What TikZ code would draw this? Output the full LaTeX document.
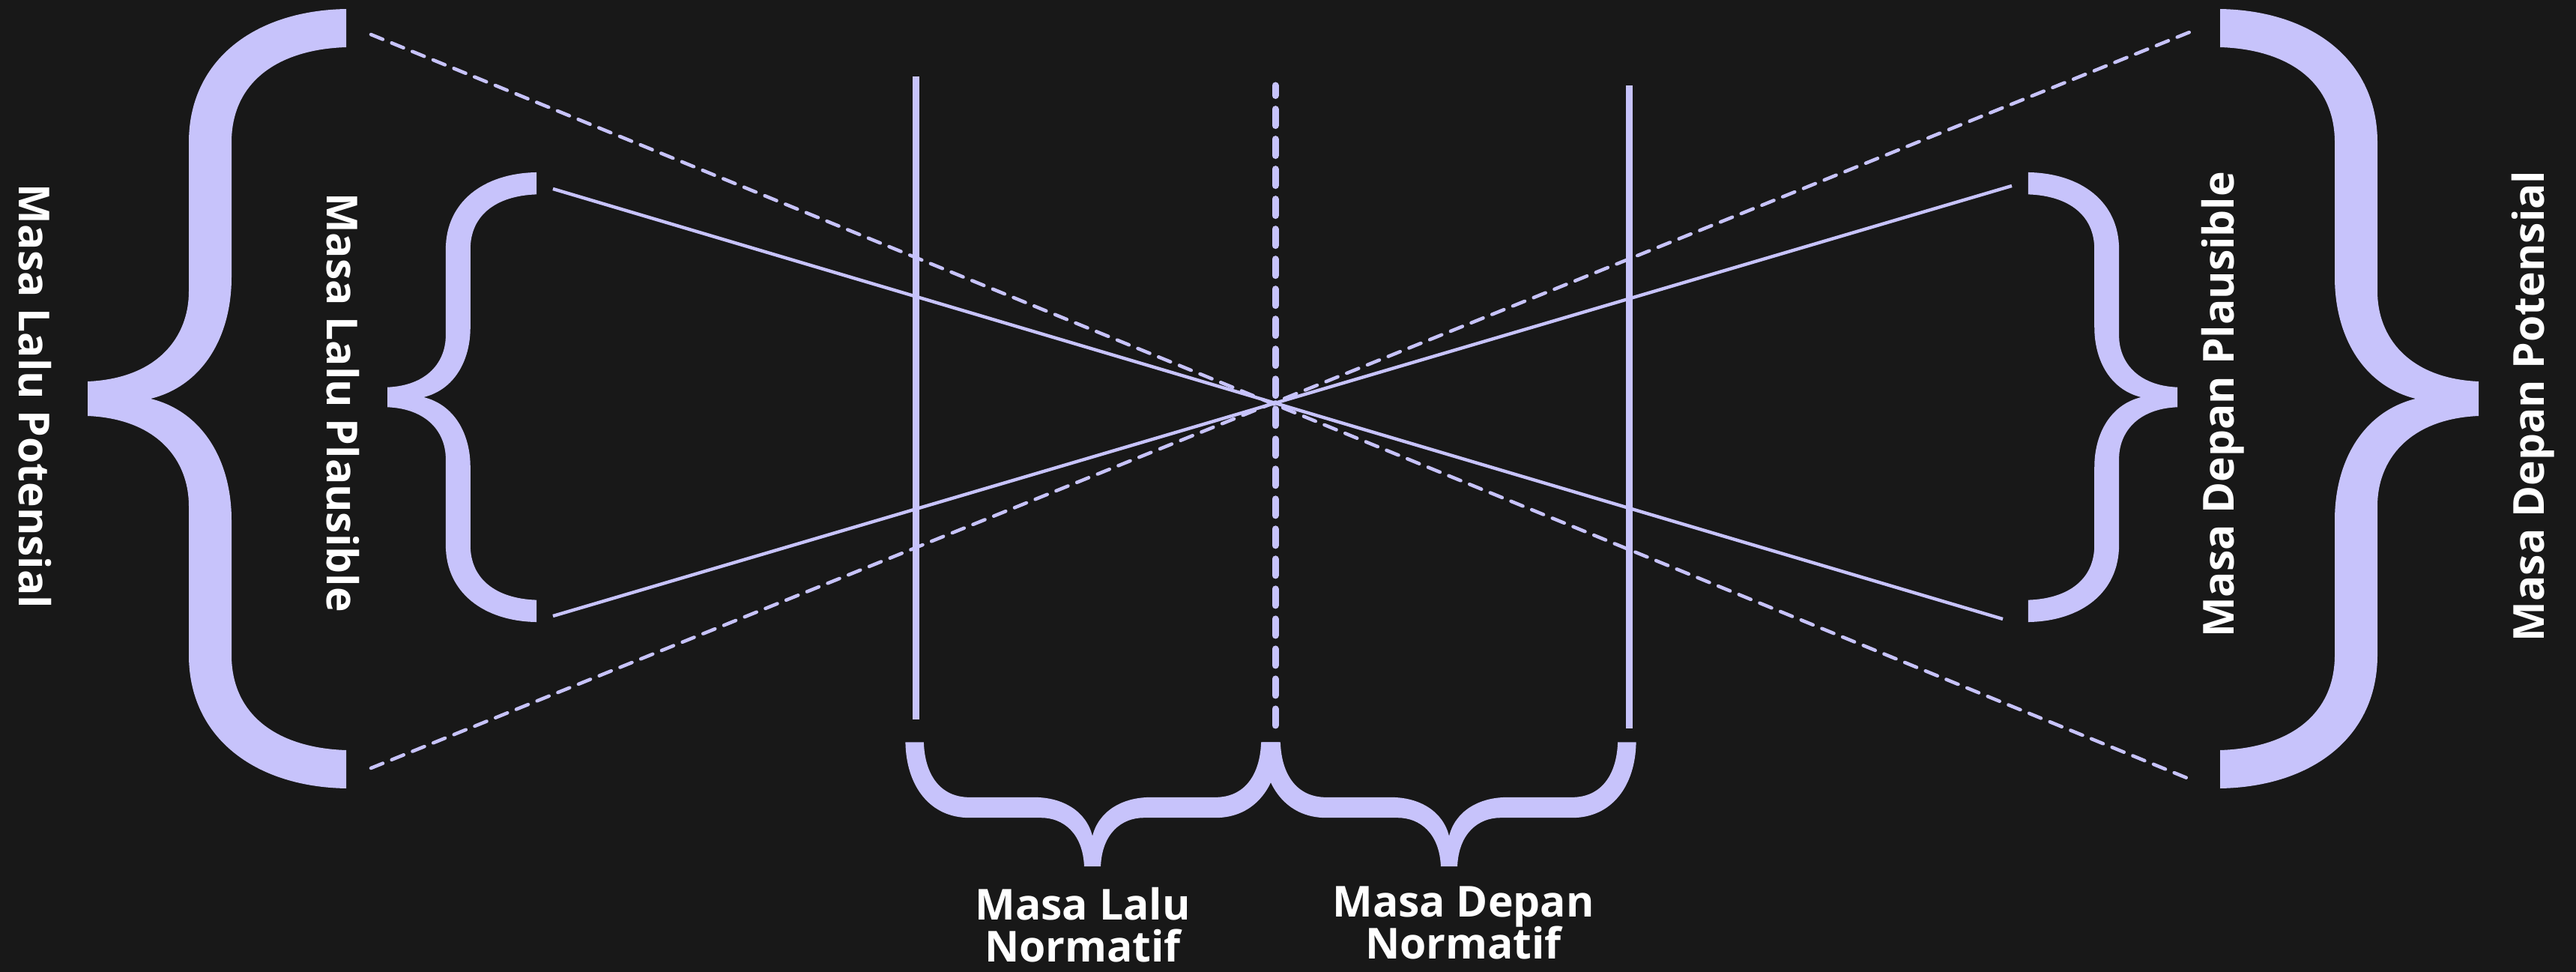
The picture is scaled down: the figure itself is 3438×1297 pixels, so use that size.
\documentclass[tikz,border=0pt]{standalone}
\usepackage{fontspec}
\setmainfont{Open Sans}
\definecolor{bgcol}{HTML}{181818}
\definecolor{bracecol}{HTML}{C7C3FB}
\setlength{\lineskiplimit}{-30pt}
\tikzset{
  bracepic/.pic={
    \fill[bracecol] (345,520) .. controls (223,518) and (135,452) .. (135,342)
      -- (135,143) .. controls (135,82) and (93,27) .. (0,23)
      -- (0,-23) .. controls (93,-27) and (135,-82) .. (135,-143)
      -- (135,-342) .. controls (135,-452) and (223,-518) .. (345,-520)
      -- (345,-469) .. controls (253,-466) and (192,-422) .. (192,-342)
      -- (192,-162) .. controls (192,-82) and (153,-17) .. (84,0)
      .. controls (153,17) and (192,82) .. (192,162)
      -- (192,342) .. controls (192,422) and (253,466) .. (345,469) -- cycle;
  },
  lbl/.style={text=white, inner sep=0pt,
    font=\fontsize{16.2pt}{15.9pt}\selectfont\bfseries},
  vsolid/.style={draw=bracecol, line width=2.56pt},
  vdash/.style={draw=bracecol, line width=2.56pt, line cap=round,
    dash pattern=on 6.26pt off 5.12pt, dash phase=2.4pt},
  dsolid/.style={draw=bracecol, line width=1.25pt},
  ddash/.style={draw=bracecol, line width=1.3pt, line cap=round,
    dash pattern=on 4.9pt off 3.6pt},
}
\begin{document}
\begin{tikzpicture}[x=0.01cm,y=-0.01cm]
\fill[bgcol] (0,0) rectangle (3438,1297);
\useasboundingbox (0,0) rectangle (3438,1297);

% braces
\pic at (117,532) {bracepic};
\pic[scale=0.577] at (517,530) {bracepic};
\pic[xscale=-1] at (3308,532) {bracepic};
\pic[xscale=-0.577,yscale=0.577] at (2906,530) {bracepic};
\pic[rotate=90,scale=0.48] at (1458,1156) {bracepic};
\pic[rotate=90,scale=0.48] at (1934,1156) {bracepic};

% line end points
\coordinate (v1t) at (1222,102);  \coordinate (v1b) at (1222,960);
\coordinate (v2t) at (1702,114);  \coordinate (v2b) at (1702,971);
\coordinate (v3t) at (2174,114);  \coordinate (v3b) at (2174,972);
\coordinate (dA1) at (495,46);    \coordinate (dA2) at (2921,1039);
\coordinate (dB1) at (495,1025);  \coordinate (dB2) at (2922,43);
\coordinate (sC1) at (738,252);   \coordinate (sC2) at (2673,826);
\coordinate (sD1) at (738,822);   \coordinate (sD2) at (2685,248);

\draw[ddash] (dA1) -- (dA2);
\draw[ddash] (dB1) -- (dB2);
\draw[dsolid] (sC1) -- (sC2);
\draw[dsolid] (sD1) -- (sD2);
\draw[vsolid] (v1t) -- (v1b);
\draw[vsolid] (v3t) -- (v3b);
\draw[vdash] (v2t) -- (v2b);

% labels
\node[lbl, rotate=-90, anchor=base] (lpot) at (25,529) {Masa Lalu Potensial};
\node[lbl, rotate=-90, anchor=base] (lpla) at (436,537) {Masa Lalu Plausible};
\node[lbl, rotate=90, anchor=base] (dpla) at (2981,540) {Masa Depan Plausible};
\node[lbl, rotate=90, anchor=base] (dpot) at (3395,542) {Masa Depan Potensial};
\node[lbl, align=center] (lnor) at (1445,1234) {Masa Lalu\\Normatif};
\node[lbl, align=center] (dnor) at (1953,1231) {Masa Depan\\Normatif};
\end{tikzpicture}
\end{document}
